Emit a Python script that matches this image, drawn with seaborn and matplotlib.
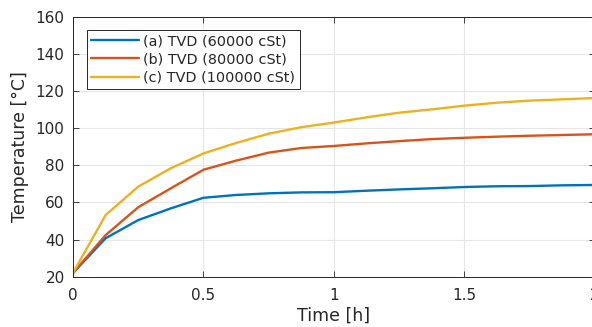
import numpy as np
import pandas as pd
import matplotlib
matplotlib.use('Agg')
import matplotlib.pyplot as plt
import seaborn as sns

time_h = [0, 0.125, 0.25, 0.375, 0.5, 0.625, 0.75, 0.875, 1.0,
          1.125, 1.25, 1.375, 1.5, 1.625, 1.75, 1.875, 2.0]
temp_60k = [22, 40.7, 50.5, 56.8, 62.5, 64.0, 64.9, 65.4, 65.5,
            66.3, 67.0, 67.6, 68.3, 68.7, 68.8, 69.2, 69.4]
temp_80k = [22, 42.4, 57.4, 67.6, 77.6, 82.5, 86.8, 89.3, 90.4,
            91.8, 93.0, 94.1, 94.8, 95.4, 95.9, 96.3, 96.7]
temp_100k = [22, 53.2, 68.5, 78.4, 86.4, 92.0, 97.0, 100.5, 103.0,
             105.8, 108.3, 110.1, 112.1, 113.7, 114.8, 115.5, 116.2]
labels = ['(a) TVD (60000 cSt)', '(b) TVD (80000 cSt)', '(c) TVD (100000 cSt)']
colors = ['#0072BD', '#D95319', '#EDB120']

df = pd.concat([
    pd.DataFrame({'Time': time_h, 'Temp': temp_60k, 'Case': labels[0]}),
    pd.DataFrame({'Time': time_h, 'Temp': temp_80k, 'Case': labels[1]}),
    pd.DataFrame({'Time': time_h, 'Temp': temp_100k, 'Case': labels[2]}),
])

sns.set_theme(style='ticks')
plt.rcParams['font.family'] = ['DejaVu Sans']
dark = '#262626'

fig = plt.figure(figsize=(5.92, 3.27), dpi=100)
ax = fig.add_axes([0.1233, 0.1538, 0.8817, 0.7952])
sns.lineplot(data=df, x='Time', y='Temp', hue='Case', palette=colors,
             linewidth=1.7, ax=ax)

ax.set_xlim(0, 2)
ax.set_ylim(20, 160)
ax.set_xticks([0, 0.5, 1, 1.5, 2])
ax.set_xticklabels(['0', '0.5', '1', '1.5', '2'])
ax.set_yticks(range(20, 161, 20))
ax.grid(True, color='#e6e6e6', linewidth=0.8)
ax.tick_params(direction='in', top=True, right=True, labelsize=11, colors=dark,
               length=4, width=0.6)
ax.tick_params(axis='x', pad=8)
ax.tick_params(axis='y', pad=6)
for s in ax.spines.values():
    s.set_visible(True)
    s.set_color(dark)
    s.set_linewidth(0.7)
ax.set_xlabel('Time [h]', fontsize=12.5, color=dark, labelpad=3)
ax.set_ylabel('Temperature [°C]', fontsize=12.5, color=dark, labelpad=5)

leg = ax.legend(loc='upper left', bbox_to_anchor=(0.027, 0.95), borderaxespad=0,
                fontsize=10.4, fancybox=False, edgecolor=dark, framealpha=1,
                handlelength=3.3, handletextpad=0.3, labelspacing=0.3,
                borderpad=0.3)
leg.get_frame().set_linewidth(0.7)
for line in leg.get_lines():
    line.set_linewidth(1.7)

fig.savefig('out.png', dpi=100)
